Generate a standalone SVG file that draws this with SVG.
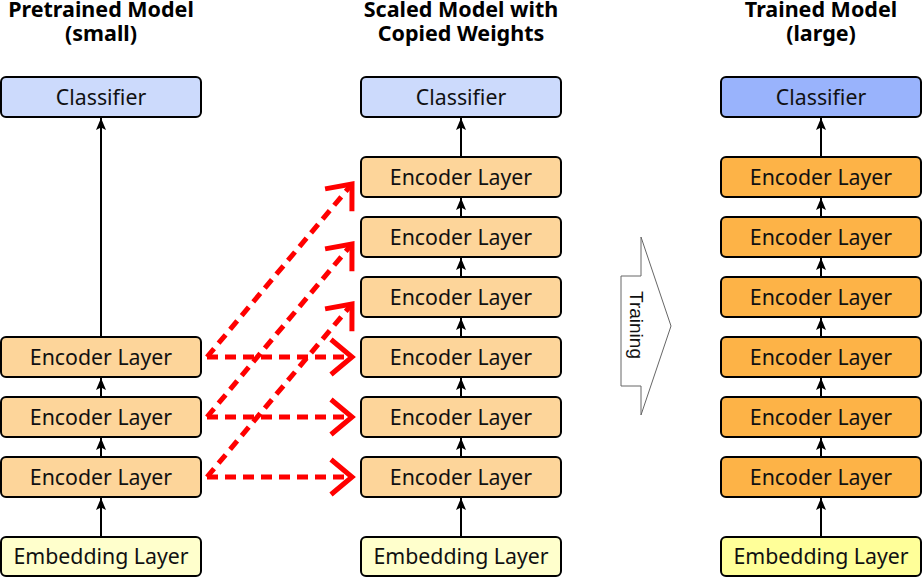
<svg xmlns="http://www.w3.org/2000/svg" width="922" height="577" viewBox="0 0 922 577">
<style>
.box{stroke:#000;stroke-width:2}
.cls{fill:#ccdafc}
.cls2{fill:#99b3fc}
.enc{fill:#fdd59a}
.enc2{fill:#fdb347}
.emb{fill:#ffffcc}
.emb2{fill:#ffff99}
.lbl{font-family:"Noto Sans","Open Sans",sans-serif;font-size:21.3px;fill:#111;text-anchor:middle}
.ttl{font-family:"Noto Sans","Open Sans",sans-serif;font-size:21.5px;font-weight:bold;fill:#000;text-anchor:middle}
.ar{stroke:#000;stroke-width:2;fill:none;marker-end:url(#blk)}
.rd{stroke:#ff0000;stroke-width:5;fill:none;stroke-dasharray:11 7;marker-end:url(#chev)}
</style>
<defs>
<marker id="blk" markerUnits="userSpaceOnUse" markerWidth="14" markerHeight="12" viewBox="0 0 14 12" refX="13" refY="6" orient="auto">
<path d="M1,1 L13,6 L1,11 L3.5,6 Z" fill="#000"/>
</marker>
<marker id="chev" markerUnits="userSpaceOnUse" markerWidth="40" markerHeight="50" viewBox="-30 -25 40 50" refX="0" refY="0" orient="auto">
<path d="M-21,-17.5 L0,0 L-21,17.5" fill="none" stroke="#ff0000" stroke-width="5" stroke-miterlimit="10"/>
</marker>
</defs>

<g id="titles">
<text class="ttl" x="101" y="17">Pretrained Model<tspan x="101" dy="24">(small)</tspan></text>
<text class="ttl" x="461" y="17">Scaled Model with<tspan x="461" dy="24">Copied Weights</tspan></text>
<text class="ttl" x="821" y="17">Trained Model<tspan x="821" dy="24">(large)</tspan></text>
</g>

<g id="connectors">
<path class="ar" d="M101,336 V118"/>
<path class="ar" d="M101,396 V378"/>
<path class="ar" d="M101,456 V438"/>
<path class="ar" d="M101,536 V498"/>
<path class="ar" d="M461,156 V118"/>
<path class="ar" d="M461,216 V198"/>
<path class="ar" d="M461,276 V258"/>
<path class="ar" d="M461,336 V318"/>
<path class="ar" d="M461,396 V378"/>
<path class="ar" d="M461,456 V438"/>
<path class="ar" d="M461,536 V498"/>
<path class="ar" d="M821,156 V118"/>
<path class="ar" d="M821,216 V198"/>
<path class="ar" d="M821,276 V258"/>
<path class="ar" d="M821,336 V318"/>
<path class="ar" d="M821,396 V378"/>
<path class="ar" d="M821,456 V438"/>
<path class="ar" d="M821,536 V498"/>
<path class="rd" d="M207,357 L352,357"/>
<path class="rd" d="M207,417 L352,417"/>
<path class="rd" d="M207,477 L352,477"/>
<path class="rd" d="M207,357 L352,184"/>
<path class="rd" d="M207,417 L352,244"/>
<path class="rd" d="M207,477 L352,304"/>
</g>

<g id="left-classifier"><rect class="box cls" x="1" y="77" width="200" height="40" rx="5"/><text class="lbl" x="101" y="104.5">Classifier</text></g>
<g id="left-enc1"><rect class="box enc" x="1" y="337" width="200" height="40" rx="5"/><text class="lbl" x="101" y="364.5">Encoder Layer</text></g>
<g id="left-enc2"><rect class="box enc" x="1" y="397" width="200" height="40" rx="5"/><text class="lbl" x="101" y="424.5">Encoder Layer</text></g>
<g id="left-enc3"><rect class="box enc" x="1" y="457" width="200" height="40" rx="5"/><text class="lbl" x="101" y="484.5">Encoder Layer</text></g>
<g id="left-emb"><rect class="box emb" x="1" y="537" width="200" height="39" rx="5"/><text class="lbl" x="101" y="564">Embedding Layer</text></g>

<g id="mid-classifier"><rect class="box cls" x="361" y="77" width="200" height="40" rx="5"/><text class="lbl" x="461" y="104.5">Classifier</text></g>
<g id="mid-enc1"><rect class="box enc" x="361" y="157" width="200" height="40" rx="5"/><text class="lbl" x="461" y="184.5">Encoder Layer</text></g>
<g id="mid-enc2"><rect class="box enc" x="361" y="217" width="200" height="40" rx="5"/><text class="lbl" x="461" y="244.5">Encoder Layer</text></g>
<g id="mid-enc3"><rect class="box enc" x="361" y="277" width="200" height="40" rx="5"/><text class="lbl" x="461" y="304.5">Encoder Layer</text></g>
<g id="mid-enc4"><rect class="box enc" x="361" y="337" width="200" height="40" rx="5"/><text class="lbl" x="461" y="364.5">Encoder Layer</text></g>
<g id="mid-enc5"><rect class="box enc" x="361" y="397" width="200" height="40" rx="5"/><text class="lbl" x="461" y="424.5">Encoder Layer</text></g>
<g id="mid-enc6"><rect class="box enc" x="361" y="457" width="200" height="40" rx="5"/><text class="lbl" x="461" y="484.5">Encoder Layer</text></g>
<g id="mid-emb"><rect class="box emb" x="361" y="537" width="200" height="39" rx="5"/><text class="lbl" x="461" y="564">Embedding Layer</text></g>

<g id="training">
<path d="M621,276 H641 V237 L671,326 L641,415 V386 H621 Z" fill="#fff" stroke="#666" stroke-width="1"/>
<text transform="translate(630,325) rotate(90)" x="0" y="0" font-family="Liberation Sans, Arial, sans-serif" font-size="19" fill="#111" text-anchor="middle">Training</text>
</g>

<g id="right-classifier"><rect class="box cls2" x="721" y="77" width="200" height="40" rx="5"/><text class="lbl" x="821" y="104.5">Classifier</text></g>
<g id="right-enc1"><rect class="box enc2" x="721" y="157" width="200" height="40" rx="5"/><text class="lbl" x="821" y="184.5">Encoder Layer</text></g>
<g id="right-enc2"><rect class="box enc2" x="721" y="217" width="200" height="40" rx="5"/><text class="lbl" x="821" y="244.5">Encoder Layer</text></g>
<g id="right-enc3"><rect class="box enc2" x="721" y="277" width="200" height="40" rx="5"/><text class="lbl" x="821" y="304.5">Encoder Layer</text></g>
<g id="right-enc4"><rect class="box enc2" x="721" y="337" width="200" height="40" rx="5"/><text class="lbl" x="821" y="364.5">Encoder Layer</text></g>
<g id="right-enc5"><rect class="box enc2" x="721" y="397" width="200" height="40" rx="5"/><text class="lbl" x="821" y="424.5">Encoder Layer</text></g>
<g id="right-enc6"><rect class="box enc2" x="721" y="457" width="200" height="40" rx="5"/><text class="lbl" x="821" y="484.5">Encoder Layer</text></g>
<g id="right-emb"><rect class="box emb2" x="721" y="537" width="200" height="39" rx="5"/><text class="lbl" x="821" y="564">Embedding Layer</text></g>
</svg>
